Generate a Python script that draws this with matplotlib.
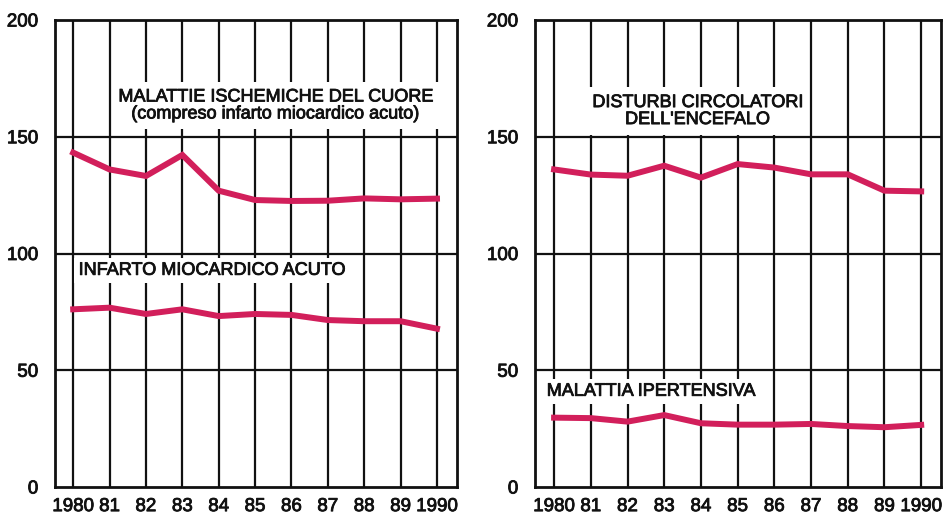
import matplotlib
matplotlib.use("Agg")
import matplotlib.pyplot as plt
import matplotlib.patheffects as pe

plt.rcParams['font.family'] = ['Liberation Sans', 'DejaVu Sans']

years = [1980, 1981, 1982, 1983, 1984, 1985, 1986, 1987, 1988, 1989, 1990]
year_labels = ["1980", "81", "82", "83", "84", "85", "86", "87", "88", "89", "1990"]
y_ticks = [0, 50, 100, 150, 200]

ischemiche = [143.2, 136.0, 133.2, 142.2, 126.9, 122.9, 122.5, 122.6, 123.6, 123.2, 123.5]
infarto = [76.1, 76.8, 74.1, 76.1, 73.2, 74.1, 73.7, 71.5, 71.0, 71.0, 67.8]
encefalo = [136.0, 133.8, 133.3, 137.6, 132.5, 138.3, 136.8, 133.9, 133.9, 126.9, 126.6]
ipertensiva = [29.7, 29.5, 28.0, 30.8, 27.3, 26.7, 26.7, 27.0, 26.1, 25.6, 26.6]

LINE = '#d21f5b'
INK = '#111111'
thick = [pe.withStroke(linewidth=0.6, foreground=INK)]

fig = plt.figure(figsize=(9.44, 5.14), dpi=100)
ax1 = fig.add_axes([55/944, 1-487/514, 402/944, 467/514])
ax2 = fig.add_axes([535/944, 1-487/514, 406/944, 467/514])


def style(ax, xlim):
    ax.set_xlim(*xlim)
    ax.set_ylim(0, 200)
    ax.set_xticks(years)
    ax.set_xticklabels(year_labels)
    ax.set_yticks(y_ticks)
    ax.tick_params(length=0, labelsize=13.5, colors=INK)
    ax.tick_params(axis='x', pad=8)
    ax.tick_params(axis='y', pad=12)
    for lab in ax.get_yticklabels() + ax.get_xticklabels():
        lab.set_path_effects(thick)
    for x in years:
        ax.axvline(x, color=INK, lw=1.6, zorder=1)
    for y in [50, 100, 150]:
        ax.axhline(y, color=INK, lw=1.6, zorder=1)
    for s in ax.spines.values():
        s.set_linewidth(2.0)
        s.set_color(INK)


style(ax1, (1979.5, 1990.55))
style(ax2, (1979.48, 1990.54))

for ax, series in [(ax1, ischemiche), (ax1, infarto), (ax2, encefalo), (ax2, ipertensiva)]:
    ax.plot(years, series, color=LINE, lw=4.3, solid_joinstyle='miter', zorder=4)

box = dict(facecolor='white', edgecolor='none', pad=5)
box_small = dict(facecolor='white', edgecolor='none', pad=3)
ax1.text(1985.55, 163.4, "MALATTIE ISCHEMICHE DEL CUORE\n(compreso infarto miocardico acuto)",
         ha='center', va='center', fontsize=13, linespacing=1.0, bbox=box, zorder=3,
         color=INK, path_effects=thick)
ax1.text(1980.15, 92.8, "INFARTO MIOCARDICO ACUTO", ha='left', va='center',
         fontsize=13, bbox=box_small, zorder=3, color=INK, path_effects=thick)
ax2.text(1983.9, 161.0, "DISTURBI CIRCOLATORI\nDELL'ENCEFALO", ha='center', va='center',
         fontsize=13, linespacing=1.0, bbox=box, zorder=3, color=INK, path_effects=thick)
ax2.text(1979.8, 41.0, "MALATTIA IPERTENSIVA", ha='left', va='center',
         fontsize=13, bbox=box_small, zorder=3, color=INK, path_effects=thick)

fig.savefig("out.png", dpi=100)
